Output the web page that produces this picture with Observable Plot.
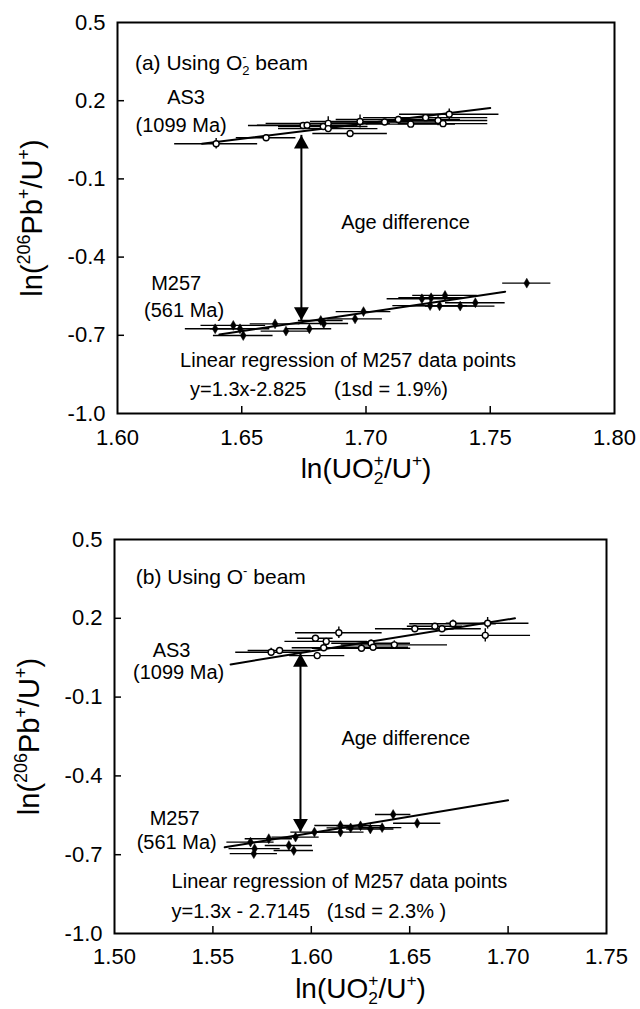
<!DOCTYPE html>
<html><head><meta charset="utf-8">
<script src="https://cdn.jsdelivr.net/npm/d3@7"></script>
<script src="https://cdn.jsdelivr.net/npm/@observablehq/plot@0.6"></script>
<style>
html,body{margin:0;padding:0;background:#fff;}
svg{display:block;}
</style></head><body>
<div id="chart"></div>
<script>
// ---------------- DATA ----------------
// Panel (a): O2- beam
const aAS3x  = [1.6397,1.6598,1.6747,1.6763,1.6828,1.6848,1.6848,1.6936,1.6976,1.7075,1.7130,1.7180,1.7240,1.7290,1.7335,1.7310];
const aAS3y  = [0.035,0.058,0.105,0.106,0.101,0.113,0.093,0.074,0.120,0.118,0.128,0.110,0.135,0.124,0.148,0.112];
const aAS3xe = [0.0167,0.012,0.022,0.020,0.018,0.025,0.020,0.015,0.020,0.022,0.025,0.018,0.025,0.020,0.020,0.018];
const aAS3ye = [0.020,0.012,0.008,0.008,0.008,0.025,0.010,0.008,0.025,0.010,0.012,0.010,0.012,0.020,0.020,0.015];

const aM257x  = [1.6393,1.6466,1.6493,1.6506,1.6634,1.6678,1.6772,1.6818,1.6830,1.6956,1.6990,1.7225,1.7262,1.7318,1.7258,1.7296,1.7379,1.7440,1.7647];
const aM257y  = [-0.675,-0.662,-0.675,-0.701,-0.656,-0.684,-0.675,-0.643,-0.655,-0.637,-0.609,-0.560,-0.556,-0.547,-0.586,-0.587,-0.588,-0.575,-0.500];
const aM257xe = [0.012,0.013,0.012,0.012,0.010,0.010,0.009,0.009,0.010,0.011,0.011,0.014,0.013,0.013,0.015,0.015,0.014,0.012,0.0097];
const aM257ye = [0.010,0.008,0.010,0.012,0.008,0.010,0.008,0.010,0.008,0.012,0.010,0.010,0.010,0.012,0.008,0.010,0.008,0.008,0.008];

const aAS3LineX  = [1.634, 1.750];
const aAS3LineY  = [0.035, 0.172];
const aM257LineX = [1.641, 1.756];
const aM257LineY = [-0.697, -0.533];
const aArrowX = [1.674];
const aArrowY = [0.067, -0.643];

// Panel (b): O- beam
const bAS3x  = [1.5796,1.5839,1.6021,1.6076,1.6140,1.6030,1.6063,1.6255,1.6304,1.6314,1.6422,1.6526,1.6628,1.6664,1.6720,1.6896,1.6884];
const bAS3y  = [0.071,0.0775,0.124,0.112,0.145,0.058,0.088,0.086,0.105,0.090,0.099,0.160,0.170,0.160,0.179,0.181,0.135];
const bAS3xe = [0.018,0.016,0.009,0.021,0.022,0.014,0.016,0.025,0.020,0.018,0.027,0.020,0.014,0.020,0.022,0.021,0.023];
const bAS3ye = [0.015,0.010,0.010,0.010,0.022,0.012,0.010,0.015,0.012,0.012,0.015,0.012,0.010,0.010,0.015,0.022,0.025];

const bM257x  = [1.5691,1.5712,1.5708,1.5784,1.5886,1.5911,1.5920,1.6016,1.6148,1.6148,1.6200,1.6250,1.6300,1.6360,1.6416,1.6538];
const bM257y  = [-0.652,-0.677,-0.696,-0.639,-0.665,-0.684,-0.633,-0.614,-0.589,-0.614,-0.598,-0.590,-0.602,-0.597,-0.547,-0.580];
const bM257xe = [0.012,0.013,0.012,0.012,0.012,0.010,0.012,0.012,0.013,0.012,0.012,0.012,0.012,0.010,0.009,0.012];
const bM257ye = [0.010,0.010,0.012,0.010,0.010,0.010,0.010,0.010,0.012,0.012,0.010,0.010,0.010,0.010,0.010,0.010];

const bAS3LineX  = [1.559, 1.7035];
const bAS3LineY  = [0.0245, 0.200];
const bM257LineX = [1.556, 1.700];
const bM257LineY = [-0.672, -0.493];
const bArrowX = [1.5945];
const bArrowY = [0.066, -0.614];

const yTicks  = [-1.0, -0.7, -0.4, -0.1, 0.2, 0.5];
const aXTicks = [1.60, 1.65, 1.70, 1.75, 1.80];
const bXTicks = [1.50, 1.55, 1.60, 1.65, 1.70, 1.75];

// ---------------- HELPERS ----------------
const FONT = "'Liberation Sans', Arial, Helvetica, sans-serif";
const zip = (xs, ys, xes, yes) => xs.map((x, i) => ({x, y: ys[i], xe: xes ? xes[i] : 0, ye: yes ? yes[i] : 0}));
const triUp = {draw(ctx, size) { const r = Math.sqrt(size / Math.PI); ctx.moveTo(0, 0); ctx.lineTo(-1.35 * r, 2.4 * r); ctx.lineTo(1.35 * r, 2.4 * r); ctx.closePath(); }};
const triDown = {draw(ctx, size) { const r = Math.sqrt(size / Math.PI); ctx.moveTo(0, 0); ctx.lineTo(-1.35 * r, -2.4 * r); ctx.lineTo(1.35 * r, -2.4 * r); ctx.closePath(); }};

function panel(cfg) {
  const fw = cfg.width - cfg.ml - cfg.mr;
  const fh = cfg.height - cfg.mt - cfg.mb;
  const as3 = zip(cfg.as3x, cfg.as3y, cfg.as3xe, cfg.as3ye);
  const m257 = zip(cfg.mx, cfg.my, cfg.mxe, cfg.mye);
  const lineA = zip(cfg.lax, cfg.lay);
  const lineM = zip(cfg.lmx, cfg.lmy);
  const innerY = yTicks.slice(1, -1);
  const innerX = cfg.xTicks.slice(1, -1);
  const n = cfg.notes;
  return Plot.plot({
    width: cfg.width, height: cfg.height,
    marginLeft: cfg.ml, marginRight: cfg.mr, marginTop: cfg.mt, marginBottom: cfg.mb,
    x: {domain: [cfg.xTicks[0], cfg.xTicks[cfg.xTicks.length - 1]]},
    y: {domain: [-1.0, 0.5]},
    style: {fontFamily: FONT, background: "white", color: "black", overflow: "visible"},
    marks: [
      Plot.frame({stroke: "black", strokeWidth: 2}),
      Plot.ruleY(innerY, {stroke: "black", strokeWidth: 1.5, insetRight: fw - 7}),
      Plot.ruleX(innerX, {stroke: "black", strokeWidth: 1.5, insetTop: fh - 7}),
      Plot.axisY({ticks: yTicks, tickSize: 0, tickPadding: 12, fontSize: 22, tickFormat: d => d.toFixed(1), label: null}),
      Plot.axisX({ticks: cfg.xTicks, tickSize: 0, tickPadding: cfg.xPad, fontSize: 22, tickFormat: d => d.toFixed(2), label: null}),
      // error bars
      Plot.ruleY(as3, {y: "y", x1: d => d.x - d.xe, x2: d => d.x + d.xe, stroke: "black", strokeWidth: 1.4}),
      Plot.ruleX(as3, {x: "x", y1: d => d.y - d.ye, y2: d => d.y + d.ye, stroke: "black", strokeWidth: 1.4}),
      Plot.ruleY(m257, {y: "y", x1: d => d.x - d.xe, x2: d => d.x + d.xe, stroke: "black", strokeWidth: 1.4}),
      Plot.ruleX(m257, {x: "x", y1: d => d.y - d.ye, y2: d => d.y + d.ye, stroke: "black", strokeWidth: 1.4}),
      // regression lines
      Plot.line(lineA, {x: "x", y: "y", stroke: "black", strokeWidth: 2}),
      Plot.line(lineM, {x: "x", y: "y", stroke: "black", strokeWidth: 2}),
      // markers
      Plot.dot(m257, {x: "x", y: "y", symbol: "diamond", r: 3, fill: "black", stroke: "black", strokeWidth: 0.5}),
      Plot.dot(as3, {x: "x", y: "y", symbol: "circle", r: 3, fill: "white", stroke: "black", strokeWidth: 1.4}),
      // age difference arrow
      Plot.ruleX(cfg.arrowX, {y1: cfg.arrowY[0], y2: cfg.arrowY[1], stroke: "black", strokeWidth: 2}),
      Plot.dot([cfg.arrowY[0]], {x: cfg.arrowX[0], y: d => d, symbol: triUp, r: 5.5, fill: "black", stroke: "none"}),
      Plot.dot([cfg.arrowY[1]], {x: cfg.arrowX[0], y: d => d, symbol: triDown, r: 5.5, fill: "black", stroke: "none"}),
      // annotations
      Plot.text([n.title], {x: n.title.x, y: n.title.y, text: d => d.t, textAnchor: "start", fontSize: 21}),
      Plot.text(n.mid, {x: "x", y: "y", text: "t", textAnchor: "middle", fontSize: 20}),
      Plot.text(n.start, {x: "x", y: "y", text: "t", textAnchor: "start", fontSize: 20}),
      // axis titles
      Plot.text(["ln(UO@{2|+}/U^{+})"], {frameAnchor: "bottom", dy: cfg.xTitleDy, text: d => d, fontSize: 28, textAnchor: "middle"}),
      Plot.text(["ln(^{206}Pb^{+}/U^{+})"], {frameAnchor: "left", dx: -85, rotate: -90, text: d => d, fontSize: 29, textAnchor: "middle"})
    ]
  });
}

// ---------------- PANELS ----------------
const svgA = panel({
  width: 640, height: 505, ml: 117, mr: 26, mt: 22, mb: 92, xPad: 16, xTitleDy: 64,
  xTicks: aXTicks,
  as3x: aAS3x, as3y: aAS3y, as3xe: aAS3xe, as3ye: aAS3ye,
  mx: aM257x, my: aM257y, mxe: aM257xe, mye: aM257ye,
  lax: aAS3LineX, lay: aAS3LineY, lmx: aM257LineX, lmy: aM257LineY,
  arrowX: aArrowX, arrowY: aArrowY,
  notes: {
    title: {t: "(a) Using O@{2|-} beam", x: 1.607, y: 0.343},
    mid: [
      {t: "AS3", x: 1.6276, y: 0.212},
      {t: "(1099 Ma)", x: 1.6256, y: 0.105},
      {t: "M257", x: 1.6236, y: -0.501},
      {t: "(561 Ma)", x: 1.6268, y: -0.605}
    ],
    start: [
      {t: "Age difference", x: 1.690, y: -0.267},
      {t: "Linear regression of M257 data points", x: 1.6252, y: -0.797},
      {t: "y=1.3x-2.825     (1sd = 1.9%)", x: 1.6292, y: -0.908}
    ]
  }
});

const svgB = panel({
  width: 640, height: 504, ml: 114, mr: 34, mt: 34, mb: 76, xPad: 15, xTitleDy: 64,
  xTicks: bXTicks,
  as3x: bAS3x, as3y: bAS3y, as3xe: bAS3xe, as3ye: bAS3ye,
  mx: bM257x, my: bM257y, mxe: bM257xe, mye: bM257ye,
  lax: bAS3LineX, lay: bAS3LineY, lmx: bM257LineX, lmy: bM257LineY,
  arrowX: bArrowX, arrowY: bArrowY,
  notes: {
    title: {t: "(b) Using O^{-} beam", x: 1.5108, y: 0.3553},
    mid: [
      {t: "AS3", x: 1.529, y: 0.0775},
      {t: "(1099 Ma)", x: 1.5326, y: -0.006},
      {t: "M257", x: 1.5306, y: -0.562},
      {t: "(561 Ma)", x: 1.5316, y: -0.653}
    ],
    start: [
      {t: "Age difference", x: 1.6153, y: -0.2575},
      {t: "Linear regression of M257 data points", x: 1.529, y: -0.802},
      {t: "y=1.3x - 2.7145   (1sd = 2.3% )", x: 1.529, y: -0.916}
    ]
  }
});

const host = document.getElementById("chart");
host.appendChild(svgA);
host.appendChild(svgB);

// ---------------- rich text (super/subscripts) ----------------
function richify(root) {
  const NS = "http://www.w3.org/2000/svg";
  root.querySelectorAll("text").forEach(t => {
    const s = t.textContent;
    if (!/[\^_@]\{/.test(s)) return;
    const fs = parseFloat(getComputedStyle(t).fontSize) || 20;
    while (t.firstChild) t.removeChild(t.firstChild);
    const re = /([\^_])\{([^}]*)\}|@\{([^|}]*)\|([^}]*)\}|([^\^_@]+)/g;
    let cur = 0, pendingDx = 0, m;
    const add = (str, shift, small, dx) => {
      const ts = document.createElementNS(NS, "tspan");
      ts.textContent = str;
      const dy = shift - cur;
      if (dy) ts.setAttribute("dy", dy);
      const ddx = (dx || 0) + pendingDx;
      if (ddx) ts.setAttribute("dx", ddx);
      pendingDx = 0;
      if (small) ts.setAttribute("font-size", fs * 0.62);
      cur = shift;
      t.appendChild(ts);
      return ts;
    };
    while ((m = re.exec(s))) {
      if (m[1]) add(m[2], m[1] === "^" ? -0.42 * fs : 0.24 * fs, true);
      else if (m[3] !== undefined) {
        const a = add(m[3], 0.24 * fs, true);
        const w = a.getComputedTextLength();
        const b = add(m[4], -0.42 * fs, true, -w);
        const w2 = b.getComputedTextLength();
        if (w > w2) pendingDx = w - w2;
      } else if (m[5]) add(m[5], 0, false);
    }
  });
}
richify(svgA);
richify(svgB);
</script>
</body></html>
